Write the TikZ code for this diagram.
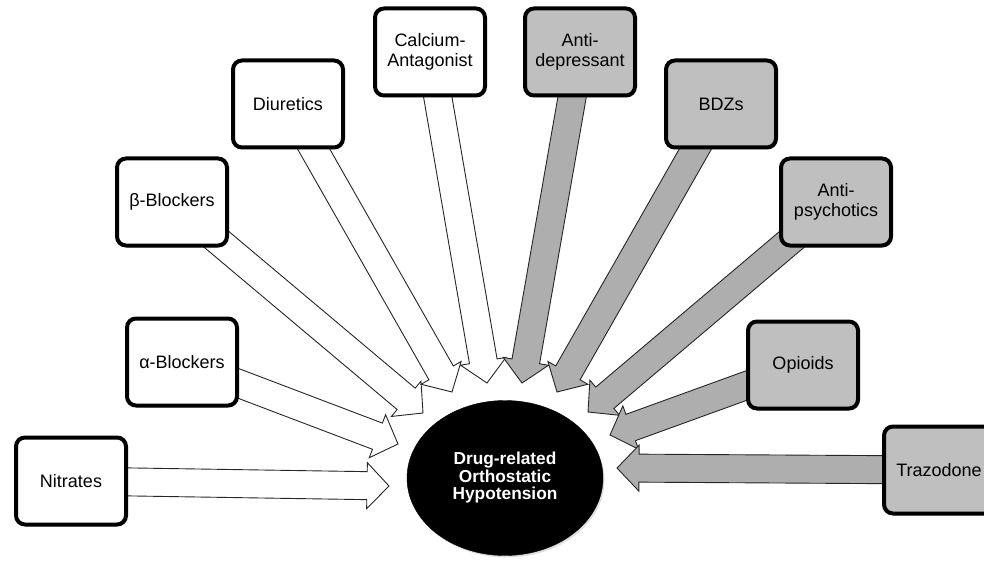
\documentclass[tikz,border=0pt]{standalone}
\usepackage{fontspec}
\setmainfont{Liberation Sans}
\usepackage{tikz}
\usetikzlibrary{calc,shadows,shapes.geometric}

\pgfdeclarelayer{background}
\pgfsetlayers{background,main}

\definecolor{boxgray}{RGB}{191,191,191}
\definecolor{arrowgray}{RGB}{174,174,174}

\newcommand{\ArrowFill}{white}
\newcommand{\BlockArrow}[2]{%
  \filldraw[fill=\ArrowFill, draw=black!85, line width=0.9pt, line join=miter]
    ($(#1.center)!14pt!90:(#2)$)
    -- ($(#2)!22pt!(#1.center)!14pt!90:(#2)$)
    -- ($(#2)!22pt!(#1.center)!23pt!90:(#2)$)
    -- (#2)
    -- ($(#2)!22pt!(#1.center)!23pt!-90:(#2)$)
    -- ($(#2)!22pt!(#1.center)!14pt!-90:(#2)$)
    -- ($(#1.center)!14pt!-90:(#2)$) -- cycle;}

\tikzset{
  drug/.style={draw, line width=4pt, rounded corners=9pt, fill=white,
    minimum width=110pt, minimum height=87pt, align=center,
    font=\fontsize{18}{19.5}\selectfont,
    drop shadow={opacity=0.25, shadow xshift=1.5pt, shadow yshift=-2pt}},
  graydrug/.style={drug, fill=boxgray},
  effect/.style={ellipse, fill=black, draw=black, inner sep=0pt,
    minimum width=196pt, minimum height=155pt, text=white, align=center,
    font=\bfseries\fontsize{17.3}{17.5}\selectfont,
    drop shadow={opacity=0.25, shadow xshift=1.5pt, shadow yshift=-2pt}}
}

\begin{document}
\begin{tikzpicture}[x=1pt, y=-1pt]
\useasboundingbox (0,0) rectangle (984,564);

\node[effect] (ohy) at (505,478) {Drug-related\\Orthostatic\\Hypotension};

\node[drug] (nit) at (71,481) {Nitrates};
\node[drug] (alb) at (182,362) {α-Blockers};
\node[drug] (bbl) at (172,202) {β-Blockers};
\node[drug] (diu) at (288,104) {Diuretics};
\node[drug] (cal) at (430,52) {Calcium-\\Antagonist};

\node[graydrug] (adp) at (580,52) {Anti-\\depressant};
\node[graydrug] (bdz) at (721,104) {BDZs};
\node[graydrug] (aps) at (836,202) {Anti-\\psychotics};
\node[graydrug] (opi) at (803,365) {Opioids};
\node[graydrug] (trz) at (939,470) {Trazodone};

\coordinate (nit-tip) at (389,486);
\coordinate (alb-tip) at (398,444);
\coordinate (bbl-tip) at (423,413);
\coordinate (diu-tip) at (452,392);
\coordinate (cal-tip) at (487,383);
\coordinate (adp-tip) at (522,383);
\coordinate (bdz-tip) at (557,392);
\coordinate (aps-tip) at (588,412);
\coordinate (opi-tip) at (610,435);
\coordinate (trz-tip) at (617,468);

\begin{pgfonlayer}{background}
{\renewcommand{\ArrowFill}{white}
\BlockArrow{nit}{nit-tip}
\BlockArrow{alb}{alb-tip}
\BlockArrow{bbl}{bbl-tip}
\BlockArrow{diu}{diu-tip}
\BlockArrow{cal}{cal-tip}
}
{\renewcommand{\ArrowFill}{arrowgray}
\BlockArrow{adp}{adp-tip}
\BlockArrow{bdz}{bdz-tip}
\BlockArrow{aps}{aps-tip}
\BlockArrow{opi}{opi-tip}
\BlockArrow{trz}{trz-tip}
}
\end{pgfonlayer}
\end{tikzpicture}
\end{document}
